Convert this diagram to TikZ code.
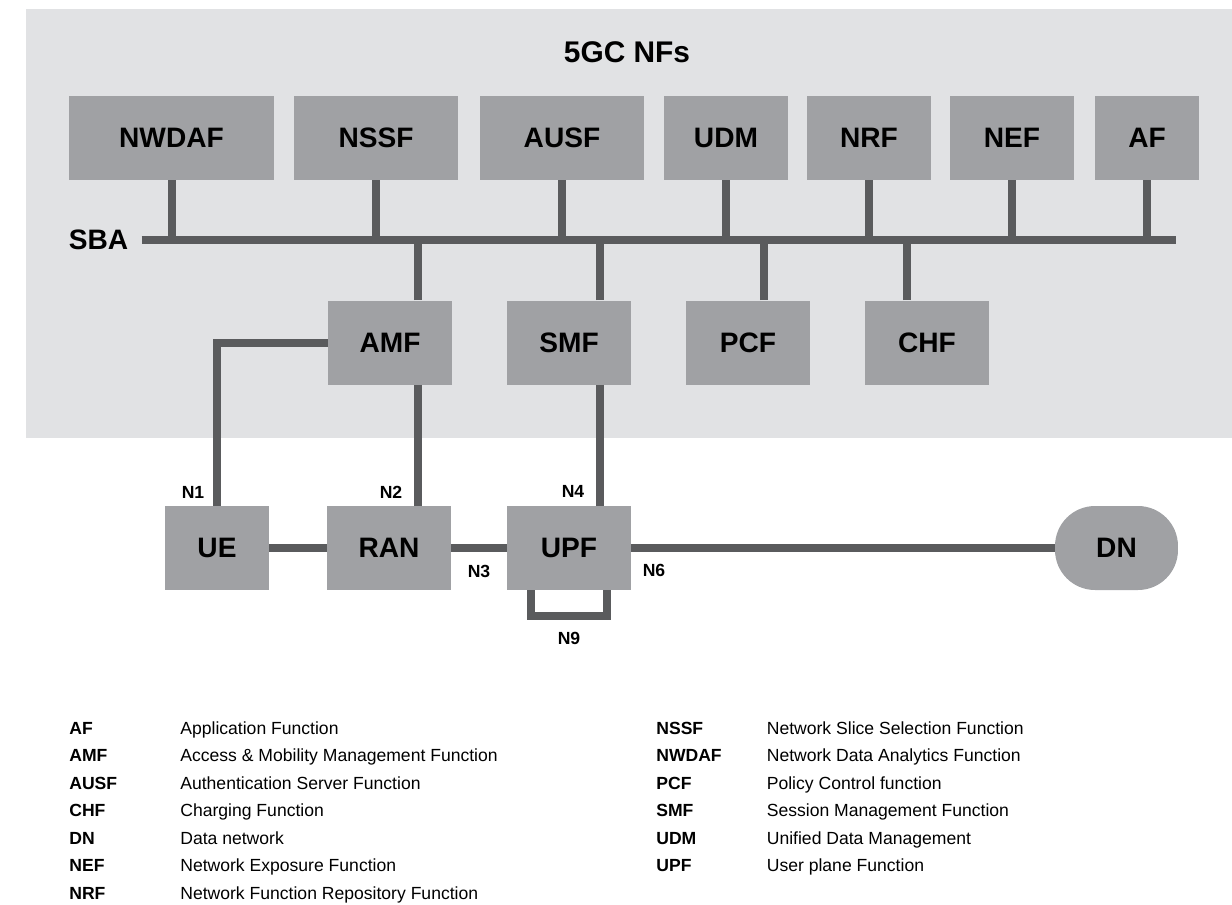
\documentclass[tikz,border=0pt]{standalone}
\usepackage{fontspec}
\setmainfont{Liberation Sans}
\usetikzlibrary{positioning}
\definecolor{panelgray}{HTML}{E1E2E4}
\definecolor{boxgray}{HTML}{A0A1A4}
\definecolor{linegray}{HTML}{5A5B5D}
\tikzset{
  nfbox/.style={fill=boxgray, minimum height=1.68cm, minimum width=2.48cm, inner sep=0pt,
    font=\bfseries\fontsize{16}{19}\selectfont},
  link/.style={draw=linegray, line width=0.16cm},
  nlabel/.style={inner sep=0pt, font=\bfseries\fontsize{10}{12}\selectfont},
  abbr/.style={anchor=base west, inner sep=0pt, font=\bfseries\fontsize{10}{12}\selectfont},
  desc/.style={anchor=base west, inner sep=0pt, font=\fontsize{10}{12}\selectfont}
}
\begin{document}
\begin{tikzpicture}[x=0.02cm, y=-0.02cm]
  \useasboundingbox (0,0) rectangle (1232,904);
  \fill[panelgray] (26,9) rectangle (1232,438);
  \node[inner sep=0pt, font=\bfseries\fontsize{17}{20}\selectfont] (title) at (627,52) {5GC NFs};

  % core NFs, top row
  \node[nfbox, minimum width=4.1cm] (nwdaf) at (171.5,138) {NWDAF};
  \node[nfbox, minimum width=3.28cm] (nssf) at (376,138) {NSSF};
  \node[nfbox, minimum width=3.28cm] (ausf) at (562,138) {AUSF};
  \node[nfbox] (udm) at (726,138) {UDM};
  \node[nfbox] (nrf) at (869,138) {NRF};
  \node[nfbox] (nef) at (1012,138) {NEF};
  \node[nfbox, minimum width=2.08cm] (af) at (1147,138) {AF};

  % service based bus
  \node[inner sep=0pt, anchor=east, font=\bfseries\fontsize{16}{19}\selectfont] (sba) at (128.5,240) {SBA};
  \coordinate (busL) at (141.5,240);
  \coordinate (busR) at (1175.6,240);
  \draw[link] (busL) -- (busR);
  \foreach \nf in {nwdaf,nssf,ausf,udm,nrf,nef,af}
    \draw[link] (\nf.south) -- (\nf.south |- busL);

  % core NFs, second row
  \node[nfbox] (amf) at (390,342.5) {AMF};
  \node[nfbox] (smf) at (569,342.5) {SMF};
  \node[nfbox] (pcf) at (748,342.5) {PCF};
  \node[nfbox] (chf) at (927,342.5) {CHF};
  \foreach \nf/\dx in {amf/28,smf/31,pcf/16,chf/-20}
    \draw[link] ([xshift=\dx*0.02cm]\nf.north) -- ([xshift=\dx*0.02cm]\nf.north |- busL);

  % access and user plane
  \node[nfbox, minimum width=2.08cm] (ue) at (217,548) {UE};
  \node[nfbox] (ran) at (389,548) {RAN};
  \node[nfbox] (upf) at (569,548) {UPF};
  \node[nfbox, rounded corners=0.8cm, minimum width=2.46cm] (dn) at (1116.5,548) {DN};

  \draw[link] (ue) -- (ran);
  \draw[link] (ran) -- (upf);
  \draw[link] (upf) -- (dn);
  \draw[link] (amf.west) -| (ue.north);
  \draw[link] ([xshift=0.56cm]amf.south) -- ([xshift=0.56cm]amf.south |- ran.north);
  \draw[link] ([xshift=0.62cm]smf.south) -- ([xshift=0.62cm]smf.south |- upf.north);
  \draw[link] ([xshift=-0.77cm]upf.south) -- ++(0,26) -| ([xshift=0.77cm]upf.south);

  \node[nlabel] (n1) at (193,492) {N1};
  \node[nlabel] (n2) at (391,492) {N2};
  \node[nlabel] (n4) at (573,491) {N4};
  \node[nlabel] (n3) at (479,571) {N3};
  \node[nlabel] (n6) at (654,570) {N6};
  \node[nlabel] (n9) at (569,638) {N9};

  % legend
  \foreach \ab/\txt [count=\i from 0] in {AF/Application Function,
      AMF/Access \& Mobility Management Function,
      AUSF/Authentication Server Function,
      CHF/Charging Function,
      DN/Data network,
      NEF/Network Exposure Function,
      NRF/Network Function Repository Function} {
    \node[abbr] (abL\i) at (69,734+27.5*\i) {\ab};
    \node[desc] (dsL\i) at (180,734+27.5*\i) {\txt};
  }
  \foreach \ab/\txt [count=\i from 0] in {NSSF/Network Slice Selection Function,
      NWDAF/Network Data Analytics Function,
      PCF/Policy Control function,
      SMF/Session Management Function,
      UDM/Unified Data Management,
      UPF/User plane Function} {
    \node[abbr] (abR\i) at (656,734+27.5*\i) {\ab};
    \node[desc] (dsR\i) at (766.5,734+27.5*\i) {\txt};
  }
\end{tikzpicture}
\end{document}
